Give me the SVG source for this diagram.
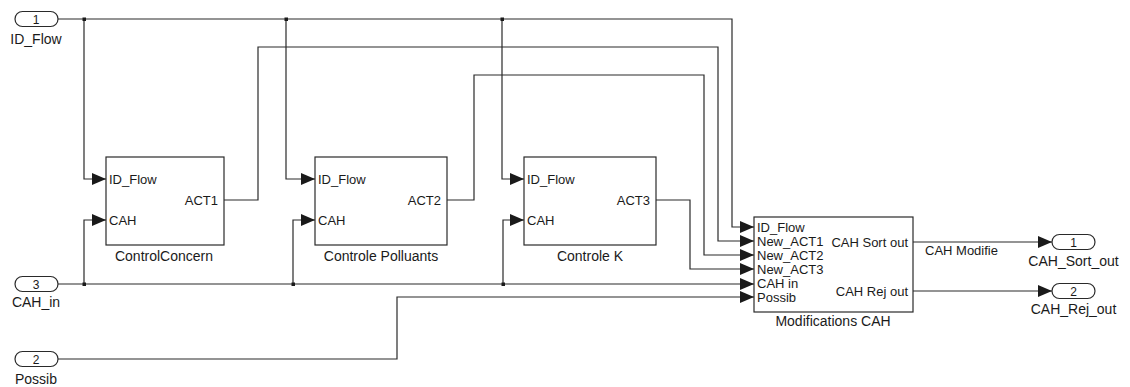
<svg xmlns="http://www.w3.org/2000/svg" width="1130" height="387" viewBox="0 0 1130 387">
<style>
.w{fill:none;stroke:#2a2a2a;stroke-width:1.2}
.blk{fill:#fff;stroke:#2a2a2a;stroke-width:1.2}
.pill{fill:#fff;stroke:#2a2a2a;stroke-width:1.2}
text{font-family:"Liberation Sans",Arial,sans-serif;fill:#1a1a1a}
.pl{font-size:13px}
.pr{font-size:13px;text-anchor:end}
.bn{font-size:14px;text-anchor:middle}
.io{font-size:14px;text-anchor:middle}
.num{font-size:12px;text-anchor:middle}
.dot{fill:#1a1a1a}
</style>
<defs>
<marker id="arr" markerUnits="userSpaceOnUse" markerWidth="14" markerHeight="12" refX="14" refY="6" orient="auto">
<path d="M0,0 L14,6 L0,12 z" fill="#1a1a1a"/>
</marker>
</defs>
<g id="connectors">
<path class="w" d="M58,19 H732 V227 H754" marker-end="url(#arr)"/>
<path class="w" d="M84,19 V179 H106" marker-end="url(#arr)"/>
<path class="w" d="M286,19 V179 H315" marker-end="url(#arr)"/>
<path class="w" d="M502,19 V179 H524" marker-end="url(#arr)"/>
<path class="w" d="M224,200 H258 V47 H718 V241 H754" marker-end="url(#arr)"/>
<path class="w" d="M447,200 H474 V75 H704 V255 H754" marker-end="url(#arr)"/>
<path class="w" d="M656,200 H690 V269 H754" marker-end="url(#arr)"/>
<path class="w" d="M58,284 H754" marker-end="url(#arr)"/>
<path class="w" d="M84,284 V220 H106" marker-end="url(#arr)"/>
<path class="w" d="M293,284 V220 H315" marker-end="url(#arr)"/>
<path class="w" d="M503,284 V220 H524" marker-end="url(#arr)"/>
<path class="w" d="M58,359 H397 V297 H754" marker-end="url(#arr)"/>
<path class="w" d="M913,242 H1052" marker-end="url(#arr)"/>
<path class="w" d="M913,291 H1052" marker-end="url(#arr)"/>
<text x="925" y="255" class="pl">CAH Modifie</text>
<rect class="dot" x="82.5" y="17.5" width="3.5" height="3.5"/>
<rect class="dot" x="284.5" y="17.5" width="3.5" height="3.5"/>
<rect class="dot" x="500.5" y="17.5" width="3.5" height="3.5"/>
<rect class="dot" x="82.5" y="282.5" width="3.5" height="3.5"/>
<rect class="dot" x="291.5" y="282.5" width="3.5" height="3.5"/>
<rect class="dot" x="501.5" y="282.5" width="3.5" height="3.5"/>
</g>
<g id="in1">
<rect class="pill" x="15" y="11.5" width="43" height="15" rx="7.5"/>
<text x="36" y="23.5" class="num">1</text>
<text x="36" y="44" class="io">ID_Flow</text>
</g>
<g id="in3">
<rect class="pill" x="15" y="276.5" width="43" height="15" rx="7.5"/>
<text x="36" y="288.5" class="num">3</text>
<text x="36" y="307" class="io">CAH_in</text>
</g>
<g id="in2">
<rect class="pill" x="15" y="351.5" width="43" height="15" rx="7.5"/>
<text x="36" y="363.5" class="num">2</text>
<text x="36" y="384" class="io">Possib</text>
</g>
<g id="controlconcern">
<rect class="blk" x="106" y="157" width="118" height="88"/>
<text x="109" y="183.5" class="pl">ID_Flow</text>
<text x="109" y="224.5" class="pl">CAH</text>
<text x="218" y="204.5" class="pr">ACT1</text>
<text x="164" y="261" class="bn">ControlConcern</text>
</g>
<g id="controlepolluants">
<rect class="blk" x="315" y="157" width="132" height="88"/>
<text x="318" y="183.5" class="pl">ID_Flow</text>
<text x="318" y="224.5" class="pl">CAH</text>
<text x="441" y="204.5" class="pr">ACT2</text>
<text x="381" y="261" class="bn">Controle Polluants</text>
</g>
<g id="controlek">
<rect class="blk" x="524" y="157" width="132" height="88"/>
<text x="527" y="183.5" class="pl">ID_Flow</text>
<text x="527" y="224.5" class="pl">CAH</text>
<text x="650" y="204.5" class="pr">ACT3</text>
<text x="590" y="261" class="bn">Controle K</text>
</g>
<g id="modifications">
<rect class="blk" x="754" y="217" width="159" height="95"/>
<text x="757" y="231.5" class="pl">ID_Flow</text>
<text x="757" y="245.5" class="pl">New_ACT1</text>
<text x="757" y="259.5" class="pl">New_ACT2</text>
<text x="757" y="273.5" class="pl">New_ACT3</text>
<text x="757" y="288" class="pl">CAH in</text>
<text x="757" y="301.5" class="pl">Possib</text>
<text x="908" y="246.5" class="pr">CAH Sort out</text>
<text x="908" y="295.5" class="pr">CAH Rej out</text>
<text x="833" y="326" class="bn">Modifications CAH</text>
</g>
<g id="out1">
<rect class="pill" x="1052" y="234.5" width="43" height="15" rx="7.5"/>
<text x="1073.5" y="246.5" class="num">1</text>
<text x="1073.5" y="266" class="io">CAH_Sort_out</text>
</g>
<g id="out2">
<rect class="pill" x="1052" y="283.5" width="43" height="15" rx="7.5"/>
<text x="1073.5" y="295.5" class="num">2</text>
<text x="1073.5" y="314" class="io">CAH_Rej_out</text>
</g>
</svg>
